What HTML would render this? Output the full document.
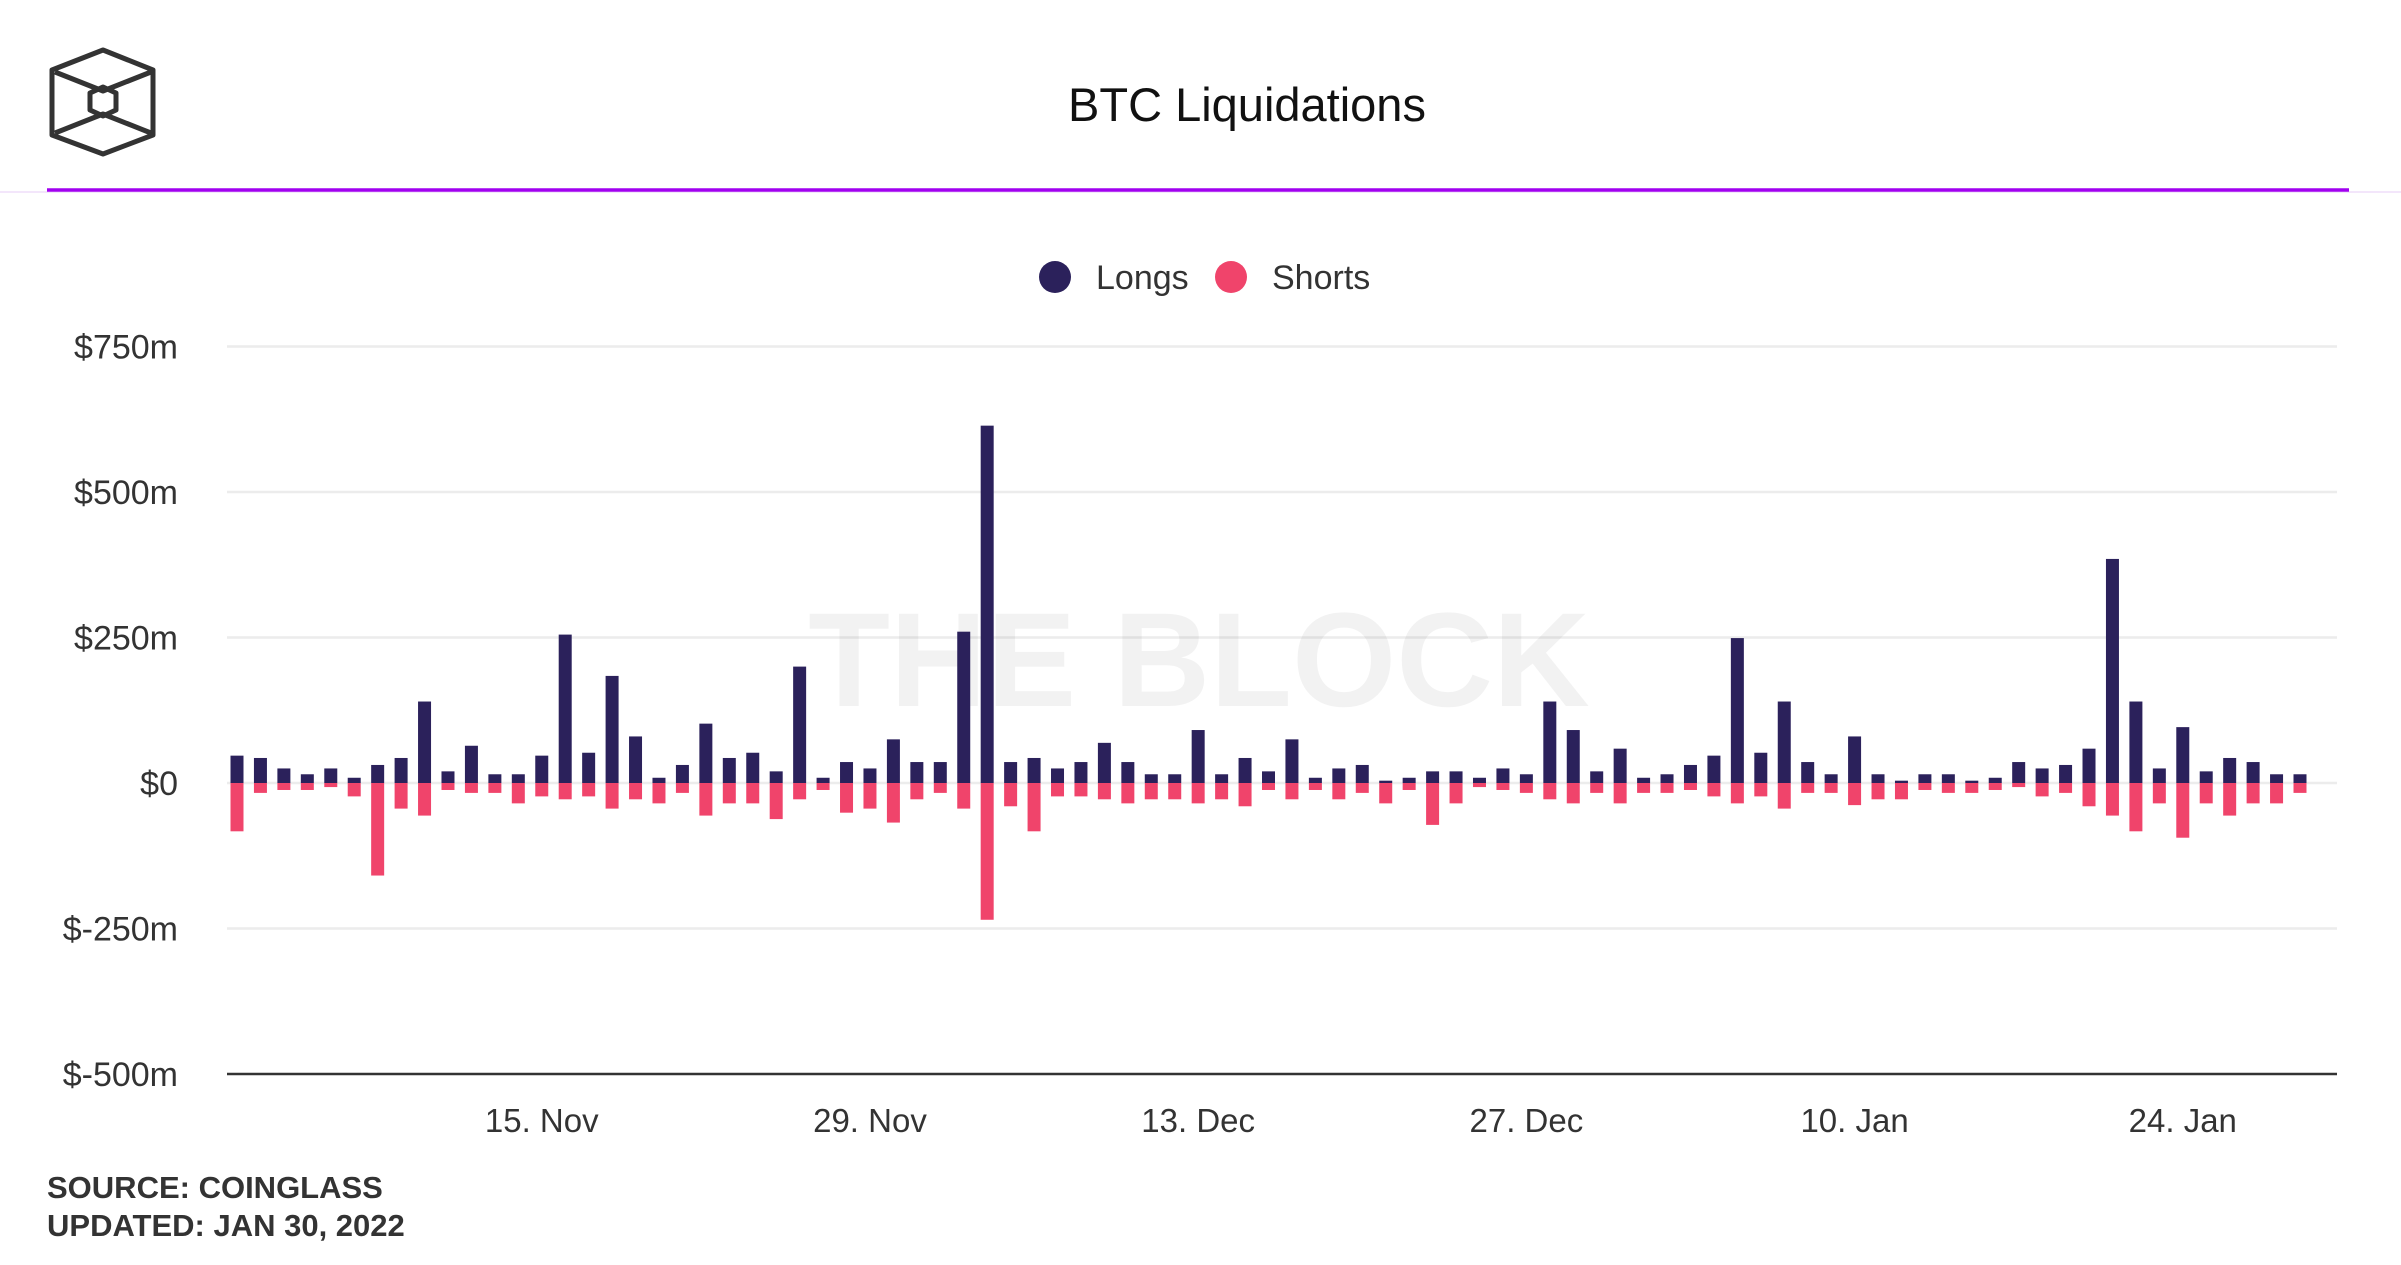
<!DOCTYPE html>
<html><head><meta charset="utf-8"><style>
html,body{margin:0;padding:0;background:#fff;}
body{width:2401px;height:1260px;overflow:hidden;position:relative;font-family:"Liberation Sans",sans-serif;}
</style></head><body>
<svg width="2401" height="1260" viewBox="0 0 2401 1260" xmlns="http://www.w3.org/2000/svg">
<g fill="none" stroke="#333" stroke-width="5" stroke-linejoin="round">
  <polygon points="103,50 153,70 153,135 103,154 52,135 52,70"/>
  <polyline points="55,72 103,91 151,72"/>
  <polyline points="55,133 103,114 151,133"/>
  <polygon points="103,87 116,93 116,110 103,116 90,110 90,93"/>
</g>
<text x="1247" y="121" text-anchor="middle" font-size="47" fill="#111">BTC Liquidations</text>
<line x1="0" y1="192" x2="2401" y2="192" stroke="#f3e6fb" stroke-width="2"/>
<line x1="47" y1="190" x2="2349" y2="190" stroke="#a100f0" stroke-width="3.5"/>
<g>
  <circle cx="1055" cy="277" r="16" fill="#2b215b"/>
  <text x="1096" y="289" font-size="34" fill="#333">Longs</text>
  <circle cx="1231" cy="277" r="16" fill="#f0446b"/>
  <text x="1272" y="289" font-size="34" fill="#333">Shorts</text>
</g>
<g id="grid"></g>
<text x="1199" y="706" text-anchor="middle" font-size="134" font-weight="bold" fill="#000" fill-opacity="0.05">THE BLOCK</text>
<g id="bars"></g>
<g id="xaxis"></g>
<text x="47" y="1198" font-size="31" font-weight="bold" fill="#333">SOURCE: COINGLASS</text>
<text x="47" y="1236" font-size="31" font-weight="bold" fill="#333">UPDATED: JAN 30, 2022</text>
</svg>
<script>
const longs = [47,43,25,15,25,9,31,43,140,20,64,15,15,47,255,52,184,80,9,31,102,43,52,20,200,9,36,25,75,36,36,260,614,
36,43,25,36,69,36,15,15,91,15,43,20,75,9,25,31,4,9,20,20,9,25,15,140,91,20,59,9,15,31,47,249,52,140,
36,15,80,15,4,15,15,4,9,36,25,31,59,385,140,25,96,20,43,36,15,15];
const shorts = [-83,-17,-12,-12,-7,-23,-159,-44,-56,-12,-17,-17,-35,-23,-28,-23,-44,-28,-35,-17,-56,-35,-35,-62,-28,-12,-51,-44,-68,-28,-17,-44,-235,
-40,-83,-23,-23,-28,-35,-28,-28,-35,-28,-40,-12,-28,-12,-28,-17,-35,-12,-72,-35,-7,-12,-17,-28,-35,-17,-35,-17,-17,-12,-23,-35,-23,-44,
-17,-17,-38,-28,-28,-12,-17,-17,-12,-7,-23,-17,-40,-56,-83,-35,-94,-35,-56,-35,-35,-17];
const yTicks = [750,500,250,0,-250,-500];
const yTickLabels = ["$750m","$500m","$250m","$0","$-250m","$-500m"];
const xTickIndex = [13,27,41,55,69,83];
const xTickLabels = ["15. Nov","29. Nov","13. Dec","27. Dec","10. Jan","24. Jan"];

const NS="http://www.w3.org/2000/svg";
const X0=237, X1=2300, PL=227, PR=2337;
function xs(i){return X0+i*(X1-X0)/(longs.length-1);}
function ys(v){return 783 - v*145.5/250;}
const grid=document.getElementById('grid');
yTicks.forEach((t,k)=>{
  const l=document.createElementNS(NS,'line');
  l.setAttribute('x1',PL);l.setAttribute('x2',PR);
  l.setAttribute('y1',ys(t));l.setAttribute('y2',ys(t));
  l.setAttribute('stroke',t===-500?'#333':'#ececec');
  l.setAttribute('stroke-width',2.5);
  
  
  grid.appendChild(l);
  const tx=document.createElementNS(NS,'text');
  tx.setAttribute('x',178);tx.setAttribute('y',ys(t)+12);
  tx.setAttribute('text-anchor','end');tx.setAttribute('font-size','34');tx.setAttribute('fill','#333');
  tx.textContent=yTickLabels[k];
  
  
  grid.appendChild(tx);
});
const bars=document.getElementById('bars');
const bw=13;
longs.forEach((v,i)=>{
  const r=document.createElementNS(NS,'rect');
  r.setAttribute('x',xs(i)-bw/2);r.setAttribute('y',ys(v));
  r.setAttribute('width',bw);r.setAttribute('height',ys(0)-ys(v));
  r.setAttribute('fill','#2b215b');
  
  
  bars.appendChild(r);
});
shorts.forEach((v,i)=>{
  const r=document.createElementNS(NS,'rect');
  r.setAttribute('x',xs(i)-bw/2);r.setAttribute('y',ys(0));
  r.setAttribute('width',bw);r.setAttribute('height',ys(v)-ys(0));
  r.setAttribute('fill','#f0446b');
  
  
  bars.appendChild(r);
});
const xa=document.getElementById('xaxis');
xTickIndex.forEach((idx,k)=>{
  const tx=document.createElementNS(NS,'text');
  tx.setAttribute('x',xs(idx));tx.setAttribute('y',1132);
  tx.setAttribute('text-anchor','middle');tx.setAttribute('font-size','33');tx.setAttribute('fill','#333');
  tx.textContent=xTickLabels[k];
  
  
  xa.appendChild(tx);
});
</script>
</body></html>
